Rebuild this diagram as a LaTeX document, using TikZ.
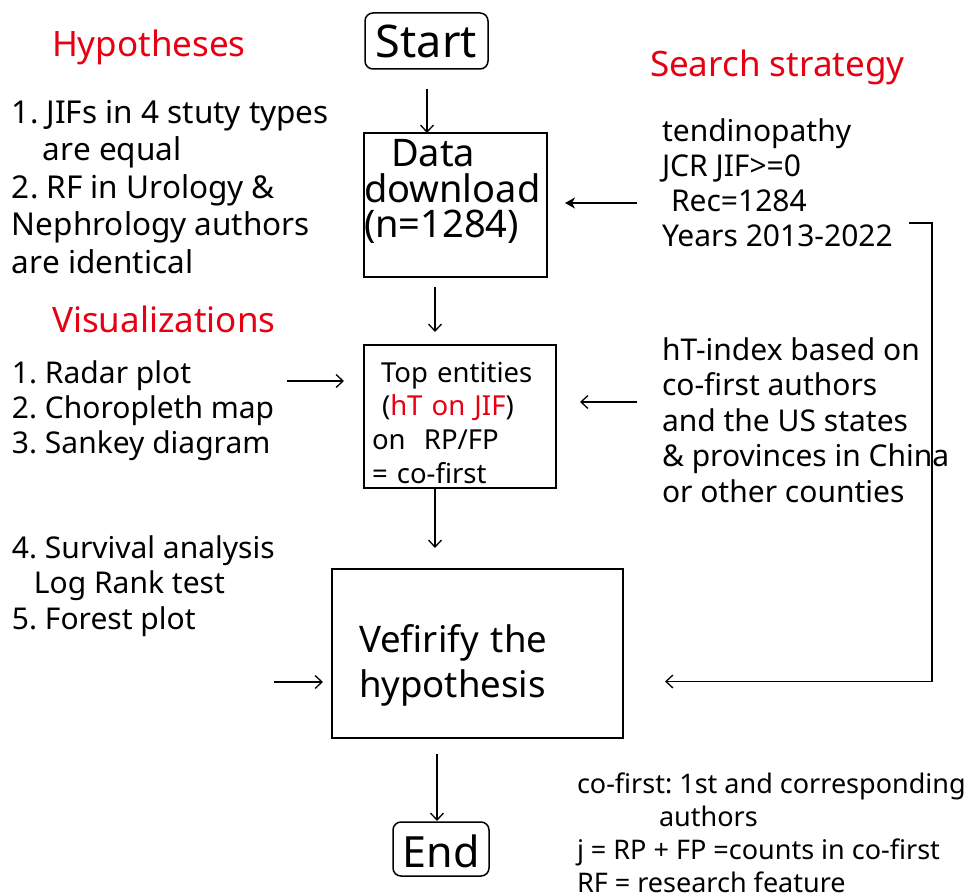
\documentclass[tikz,border=0pt]{standalone}
\usepackage{fontspec}
\setmainfont{Noto Sans}
\usetikzlibrary{arrows.meta}
\definecolor{hred}{RGB}{230,0,18}
\frenchspacing
\tikzset{
  every node/.style={inner sep=0pt, outer sep=0pt},
  txt/.style={anchor=base west, align=left},
  head/.style={txt, text=hred, font=\fontsize{35}{40}\selectfont},
  flowbox/.style={draw, line width=1.5pt, anchor=base west, align=left},
  termbox/.style={draw, line width=1.5pt, rounded corners=8pt, anchor=base west, align=center},
  arr/.style={line width=1.3pt, -{Straight Barb[length=7pt,width=13pt,line width=1.3pt]}},
  arrs/.style={line width=1.3pt, -{Stealth[length=10pt,width=11pt,inset=3pt]}}
}
\begin{document}
\frenchspacing
\begin{tikzpicture}[x=1pt,y=-1pt]
\useasboundingbox (0,0) rectangle (975,896);

% headings
\node[head] (hyphead) at (52,57) {Hypotheses};
\node[head] (vishead) at (52,332) {Visualizations};
\node[head] (srchhead) at (650,77) {Search strategy};

% left texts (anchored at the baseline of their last line)
\node[txt, font=\fontsize{31.5}{37.5}\selectfont] (hyplist) at (12,273)
  {1. JIFs in 4 stuty types\\ \hspace*{31pt}are equal\\ 2. RF in Urology \&\\ Nephrology authors\\ are identical};
\node[txt, font=\fontsize{30}{35}\selectfont] (vislist) at (12,453)
  {1. Radar plot\\ 2. Choropleth map\\ 3. Sankey diagram};
\node[txt, font=\fontsize{30}{35.5}\selectfont] (analist) at (12,629)
  {4. Survival analysis\\ \hspace*{22pt}Log Rank test\\ 5. Forest plot};

% right texts
\node[txt, font=\fontsize{30}{35}\selectfont] (srchlist) at (662,247)
  {tendinopathy\\ JCR JIF>=0\\ \hspace*{9pt}Rec=1284\\ Years 2013-2022};
\node[txt, font=\fontsize{30}{35.5}\selectfont] (htlist) at (662,502)
  {hT-index based on\\ co-first authors\\ and the US states\\ \& provinces in China\\ or other counties};
\node[txt, font=\fontsize{27}{33}\selectfont] (notes) at (577,892)
  {co-first: 1st and corresponding\\ \hspace*{82pt}authors\\ j = RP + FP =counts in co-first\\ RF = research feature};

% flow boxes
\node[termbox, text width=123pt, text height=45pt, text depth=11pt,
      font=\fontsize{45}{50}\selectfont] (start) at (365,58) {Start};
\node[flowbox, text width=183pt, text height=34pt, text depth=110pt,
      font=\fontsize{38}{35.5}\selectfont] (data) at (364,167)
  {\hspace*{27pt}Data\\ download\\ (n=1284)};
\node[flowbox, text width=192pt, text height=37pt, text depth=106pt,
      font=\fontsize{27.5}{33.7}\selectfont] (top) at (364,382)
  {\hspace*{17pt}Top entities\\ \hspace*{18pt}(\textcolor{hred}{hT on JIF})\\ \hspace*{8pt}on\ \ RP/FP\\ \hspace*{8pt}= co-first};
\node[flowbox, text width=291pt, text height=83pt, text depth=86pt,
      font=\fontsize{36.6}{45}\selectfont] (verify) at (332,652)
  {\hspace*{27pt}Vefirify the\\ \hspace*{27pt}hypothesis};
\node[termbox, text width=96pt, text height=45pt, text depth=9pt,
      font=\fontsize{43}{48}\selectfont] (end) at (393,867) {End};

% vertical connectors
\draw[arr, shorten <=20pt] ([xshift=0.5pt]start.south) -- ([xshift=0.5pt]start.south |- data.north);
\draw[arr, shorten <=10pt, shorten >=13pt] ([xshift=-20.5pt]data.south) -- ([xshift=-20.5pt]data.south |- top.north);
\draw[arr, shorten >=21pt] ([xshift=-25pt]top.south) -- ([xshift=-25pt]top.south |- verify.north);
\draw[arr, shorten <=16pt, shorten >=1pt] ([xshift=-40.5pt]verify.south) -- ([xshift=-40.5pt]verify.south |- end.north);

% left inputs
\coordinate (visout) at (287,381);
\coordinate (anaout) at (274,682);
\draw[arr, shorten >=20pt] (visout) -- (visout -| top.west);
\draw[arr, shorten >=9pt] (anaout) -- (anaout -| verify.west);

% right inputs
\coordinate (srchout) at (637,203);
\coordinate (htout) at (637,402);
\coordinate (brk) at (909,223);
\draw[arrs, shorten >=18pt] (srchout) -- (srchout -| data.east);
\draw[arr, shorten >=24pt] (htout) -- (htout -| top.east);
\draw[arr, shorten >=42pt] (brk) -- ++(23,0) |- ([yshift=-28pt]verify.east);
\end{tikzpicture}
\end{document}
